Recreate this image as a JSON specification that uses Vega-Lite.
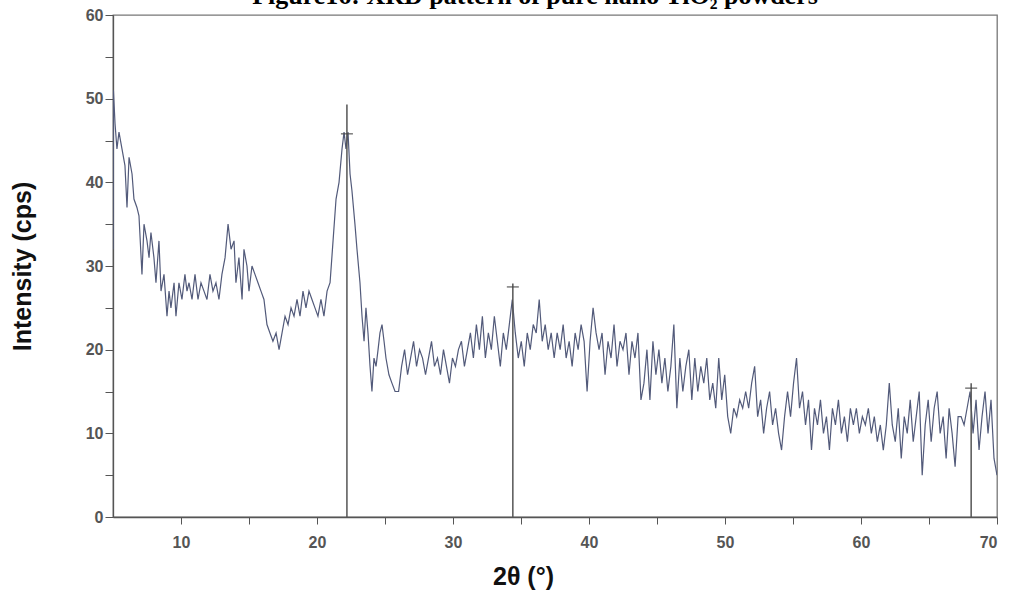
{
  "$schema": "https://vega.github.io/schema/vega-lite/v6.json",
  "width": 884,
  "height": 502,
  "autosize": {"type": "none"},
  "padding": {"left": 113, "top": 15, "right": 16, "bottom": 75},
  "background": "white",
  "title": {
    "text": "Figure16:  XRD pattern of pure nano TiO₂ powders",
    "font": "Liberation Serif",
    "fontSize": 26,
    "fontWeight": "bold",
    "color": "#000",
    "anchor": "middle",
    "frame": "group",
    "dx": -20,
    "dy": 23,
    "offset": 0,
    "baseline": "alphabetic"
  },
  "datasets": {
    "pattern": [
      {"angle": 5.0, "cps": 32}, {"angle": 5.03, "cps": 51}, {"angle": 5.15, "cps": 47}, {"angle": 5.29, "cps": 44},
      {"angle": 5.44, "cps": 46}, {"angle": 5.66, "cps": 44}, {"angle": 5.88, "cps": 42}, {"angle": 6.03, "cps": 37},
      {"angle": 6.18, "cps": 43}, {"angle": 6.40, "cps": 41}, {"angle": 6.54, "cps": 38}, {"angle": 6.76, "cps": 37},
      {"angle": 6.91, "cps": 36}, {"angle": 7.13, "cps": 29}, {"angle": 7.28, "cps": 35}, {"angle": 7.50, "cps": 33},
      {"angle": 7.65, "cps": 31}, {"angle": 7.79, "cps": 34}, {"angle": 8.01, "cps": 31}, {"angle": 8.16, "cps": 28},
      {"angle": 8.38, "cps": 33}, {"angle": 8.53, "cps": 27}, {"angle": 8.75, "cps": 29}, {"angle": 8.97, "cps": 24},
      {"angle": 9.12, "cps": 27}, {"angle": 9.26, "cps": 25}, {"angle": 9.49, "cps": 28}, {"angle": 9.63, "cps": 24},
      {"angle": 9.85, "cps": 28}, {"angle": 10.07, "cps": 26}, {"angle": 10.29, "cps": 29}, {"angle": 10.44, "cps": 27},
      {"angle": 10.59, "cps": 28}, {"angle": 10.81, "cps": 26}, {"angle": 11.03, "cps": 29}, {"angle": 11.25, "cps": 26},
      {"angle": 11.47, "cps": 28}, {"angle": 11.69, "cps": 27}, {"angle": 11.91, "cps": 26}, {"angle": 12.13, "cps": 29},
      {"angle": 12.35, "cps": 27}, {"angle": 12.57, "cps": 28}, {"angle": 12.79, "cps": 26}, {"angle": 13.01, "cps": 29},
      {"angle": 13.24, "cps": 31}, {"angle": 13.46, "cps": 35}, {"angle": 13.68, "cps": 32}, {"angle": 13.90, "cps": 33},
      {"angle": 14.04, "cps": 28}, {"angle": 14.26, "cps": 31}, {"angle": 14.49, "cps": 26}, {"angle": 14.63, "cps": 32},
      {"angle": 14.85, "cps": 30}, {"angle": 15.00, "cps": 27}, {"angle": 15.22, "cps": 30}, {"angle": 15.44, "cps": 29},
      {"angle": 15.66, "cps": 28}, {"angle": 15.88, "cps": 27}, {"angle": 16.10, "cps": 26}, {"angle": 16.32, "cps": 23},
      {"angle": 16.54, "cps": 22}, {"angle": 16.76, "cps": 21}, {"angle": 16.99, "cps": 22}, {"angle": 17.21, "cps": 20},
      {"angle": 17.43, "cps": 22}, {"angle": 17.65, "cps": 24}, {"angle": 17.87, "cps": 23}, {"angle": 18.09, "cps": 25},
      {"angle": 18.31, "cps": 24}, {"angle": 18.53, "cps": 26}, {"angle": 18.75, "cps": 24}, {"angle": 18.97, "cps": 27},
      {"angle": 19.19, "cps": 25}, {"angle": 19.41, "cps": 27}, {"angle": 19.63, "cps": 26}, {"angle": 19.85, "cps": 25},
      {"angle": 20.07, "cps": 24}, {"angle": 20.29, "cps": 26}, {"angle": 20.51, "cps": 24}, {"angle": 20.74, "cps": 27},
      {"angle": 20.96, "cps": 28}, {"angle": 21.18, "cps": 33}, {"angle": 21.40, "cps": 38}, {"angle": 21.62, "cps": 40},
      {"angle": 21.84, "cps": 44}, {"angle": 21.99, "cps": 46}, {"angle": 22.13, "cps": 44}, {"angle": 22.28, "cps": 46},
      {"angle": 22.43, "cps": 41}, {"angle": 22.57, "cps": 39}, {"angle": 22.79, "cps": 35}, {"angle": 22.94, "cps": 32},
      {"angle": 23.16, "cps": 28}, {"angle": 23.31, "cps": 24}, {"angle": 23.46, "cps": 21}, {"angle": 23.60, "cps": 25},
      {"angle": 23.75, "cps": 22}, {"angle": 23.90, "cps": 18}, {"angle": 24.04, "cps": 15}, {"angle": 24.19, "cps": 19},
      {"angle": 24.34, "cps": 18}, {"angle": 24.49, "cps": 20}, {"angle": 24.63, "cps": 22}, {"angle": 24.78, "cps": 23},
      {"angle": 24.93, "cps": 21}, {"angle": 25.07, "cps": 19}, {"angle": 25.29, "cps": 17}, {"angle": 25.51, "cps": 16},
      {"angle": 25.74, "cps": 15},
      {"angle": 26.00, "cps": 15}, {"angle": 26.22, "cps": 18}, {"angle": 26.44, "cps": 20}, {"angle": 26.66, "cps": 17},
      {"angle": 26.88, "cps": 19}, {"angle": 27.10, "cps": 21}, {"angle": 27.32, "cps": 18}, {"angle": 27.54, "cps": 20},
      {"angle": 27.76, "cps": 19}, {"angle": 27.98, "cps": 17}, {"angle": 28.20, "cps": 19}, {"angle": 28.42, "cps": 21},
      {"angle": 28.64, "cps": 18}, {"angle": 28.86, "cps": 19}, {"angle": 29.08, "cps": 17}, {"angle": 29.30, "cps": 20},
      {"angle": 29.52, "cps": 18}, {"angle": 29.74, "cps": 16}, {"angle": 29.96, "cps": 19}, {"angle": 30.18, "cps": 18},
      {"angle": 30.40, "cps": 20}, {"angle": 30.62, "cps": 21}, {"angle": 30.84, "cps": 18}, {"angle": 31.06, "cps": 20},
      {"angle": 31.28, "cps": 22}, {"angle": 31.50, "cps": 19}, {"angle": 31.72, "cps": 23}, {"angle": 31.94, "cps": 20},
      {"angle": 32.16, "cps": 24}, {"angle": 32.38, "cps": 19}, {"angle": 32.60, "cps": 22}, {"angle": 32.82, "cps": 20},
      {"angle": 33.04, "cps": 24}, {"angle": 33.26, "cps": 21}, {"angle": 33.48, "cps": 18}, {"angle": 33.70, "cps": 22},
      {"angle": 33.92, "cps": 20}, {"angle": 34.14, "cps": 23}, {"angle": 34.36, "cps": 26}, {"angle": 34.58, "cps": 22},
      {"angle": 34.80, "cps": 19}, {"angle": 35.02, "cps": 21}, {"angle": 35.24, "cps": 18}, {"angle": 35.46, "cps": 22},
      {"angle": 35.68, "cps": 20}, {"angle": 35.90, "cps": 23}, {"angle": 36.12, "cps": 22}, {"angle": 36.34, "cps": 26},
      {"angle": 36.56, "cps": 21}, {"angle": 36.78, "cps": 23}, {"angle": 37.00, "cps": 20}, {"angle": 37.22, "cps": 22},
      {"angle": 37.44, "cps": 19}, {"angle": 37.66, "cps": 22}, {"angle": 37.88, "cps": 20}, {"angle": 38.10, "cps": 23},
      {"angle": 38.32, "cps": 19}, {"angle": 38.54, "cps": 21}, {"angle": 38.76, "cps": 18}, {"angle": 38.98, "cps": 22},
      {"angle": 39.20, "cps": 20}, {"angle": 39.42, "cps": 23}, {"angle": 39.64, "cps": 21}, {"angle": 39.86, "cps": 15},
      {"angle": 40.08, "cps": 21}, {"angle": 40.30, "cps": 25}, {"angle": 40.52, "cps": 22}, {"angle": 40.74, "cps": 20},
      {"angle": 40.96, "cps": 22}, {"angle": 41.18, "cps": 17}, {"angle": 41.40, "cps": 21}, {"angle": 41.62, "cps": 19},
      {"angle": 41.84, "cps": 23}, {"angle": 42.06, "cps": 18}, {"angle": 42.28, "cps": 21}, {"angle": 42.50, "cps": 20},
      {"angle": 42.72, "cps": 22}, {"angle": 42.94, "cps": 17}, {"angle": 43.16, "cps": 21}, {"angle": 43.38, "cps": 19},
      {"angle": 43.60, "cps": 22}, {"angle": 43.82, "cps": 14}, {"angle": 44.04, "cps": 16}, {"angle": 44.26, "cps": 20},
      {"angle": 44.48, "cps": 14}, {"angle": 44.70, "cps": 21}, {"angle": 44.92, "cps": 17}, {"angle": 45.14, "cps": 20},
      {"angle": 45.36, "cps": 16}, {"angle": 45.58, "cps": 19}, {"angle": 45.80, "cps": 15}, {"angle": 46.02, "cps": 18},
      {"angle": 46.24, "cps": 23}, {"angle": 46.46, "cps": 13}, {"angle": 46.68, "cps": 19}, {"angle": 46.90, "cps": 15},
      {"angle": 47.12, "cps": 18}, {"angle": 47.34, "cps": 20}, {"angle": 47.56, "cps": 14}, {"angle": 47.78, "cps": 19},
      {"angle": 48.00, "cps": 15}, {"angle": 48.22, "cps": 18}, {"angle": 48.44, "cps": 16}, {"angle": 48.66, "cps": 19},
      {"angle": 48.88, "cps": 14}, {"angle": 49.10, "cps": 16}, {"angle": 49.32, "cps": 13}, {"angle": 49.54, "cps": 19},
      {"angle": 49.76, "cps": 14}, {"angle": 49.98, "cps": 17}, {"angle": 50.20, "cps": 12}, {"angle": 50.42, "cps": 10},
      {"angle": 50.64, "cps": 13}, {"angle": 50.86, "cps": 12}, {"angle": 51.08, "cps": 14}, {"angle": 51.30, "cps": 13},
      {"angle": 51.52, "cps": 15}, {"angle": 51.74, "cps": 13}, {"angle": 51.96, "cps": 16}, {"angle": 52.18, "cps": 18},
      {"angle": 52.40, "cps": 12}, {"angle": 52.62, "cps": 14}, {"angle": 52.84, "cps": 10}, {"angle": 53.06, "cps": 13},
      {"angle": 53.28, "cps": 15}, {"angle": 53.50, "cps": 11}, {"angle": 53.72, "cps": 13}, {"angle": 53.94, "cps": 10},
      {"angle": 54.16, "cps": 8}, {"angle": 54.38, "cps": 12}, {"angle": 54.60, "cps": 15}, {"angle": 54.82, "cps": 12},
      {"angle": 55.04, "cps": 16}, {"angle": 55.26, "cps": 19}, {"angle": 55.48, "cps": 13}, {"angle": 55.70, "cps": 15},
      {"angle": 55.92, "cps": 11}, {"angle": 56.14, "cps": 14}, {"angle": 56.36, "cps": 8}, {"angle": 56.58, "cps": 13},
      {"angle": 56.80, "cps": 11}, {"angle": 57.02, "cps": 14}, {"angle": 57.24, "cps": 10}, {"angle": 57.46, "cps": 12},
      {"angle": 57.68, "cps": 8}, {"angle": 57.90, "cps": 13}, {"angle": 58.12, "cps": 11}, {"angle": 58.34, "cps": 14},
      {"angle": 58.56, "cps": 10}, {"angle": 58.78, "cps": 12}, {"angle": 59.00, "cps": 9}, {"angle": 59.22, "cps": 13},
      {"angle": 59.44, "cps": 11}, {"angle": 59.66, "cps": 13}, {"angle": 59.88, "cps": 10}, {"angle": 60.10, "cps": 12},
      {"angle": 60.32, "cps": 11}, {"angle": 60.54, "cps": 13}, {"angle": 60.76, "cps": 10}, {"angle": 60.98, "cps": 12},
      {"angle": 61.20, "cps": 9}, {"angle": 61.42, "cps": 11}, {"angle": 61.64, "cps": 8}, {"angle": 61.86, "cps": 11},
      {"angle": 62.08, "cps": 16}, {"angle": 62.30, "cps": 11}, {"angle": 62.52, "cps": 9}, {"angle": 62.74, "cps": 13},
      {"angle": 62.96, "cps": 7}, {"angle": 63.18, "cps": 12}, {"angle": 63.40, "cps": 10}, {"angle": 63.62, "cps": 14},
      {"angle": 63.84, "cps": 9}, {"angle": 64.06, "cps": 12}, {"angle": 64.28, "cps": 15}, {"angle": 64.50, "cps": 5},
      {"angle": 64.72, "cps": 11}, {"angle": 64.94, "cps": 14}, {"angle": 65.16, "cps": 9}, {"angle": 65.38, "cps": 13},
      {"angle": 65.60, "cps": 15}, {"angle": 65.82, "cps": 10}, {"angle": 66.04, "cps": 12}, {"angle": 66.26, "cps": 7},
      {"angle": 66.48, "cps": 13}, {"angle": 66.70, "cps": 10}, {"angle": 66.92, "cps": 6}, {"angle": 67.14, "cps": 12},
      {"angle": 67.36, "cps": 12}, {"angle": 67.58, "cps": 11}, {"angle": 67.80, "cps": 13}, {"angle": 68.02, "cps": 15},
      {"angle": 68.24, "cps": 10}, {"angle": 68.46, "cps": 14}, {"angle": 68.68, "cps": 8}, {"angle": 68.90, "cps": 12},
      {"angle": 69.12, "cps": 15}, {"angle": 69.34, "cps": 10}, {"angle": 69.56, "cps": 14}, {"angle": 69.78, "cps": 7},
      {"angle": 70.00, "cps": 5}
    ],
    "peaks": [
      {"angle": 22.2, "top": 49.3, "cross": 45.8},
      {"angle": 34.4, "top": 27.9, "cross": 27.5},
      {"angle": 68.1, "top": 16.0, "cross": 15.4}
    ]
  },
  "config": {
    "view": {"stroke": "#777", "strokeWidth": 1.3},
    "axis": {
      "grid": false,
      "domainColor": "#555",
      "domainWidth": 1.3,
      "tickColor": "#555",
      "tickWidth": 1,
      "labelColor": "#555",
      "labelFont": "Liberation Sans",
      "labelFontSize": 16,
      "labelFontWeight": "bold",
      "titleFont": "Liberation Sans",
      "titleFontSize": 25,
      "titleFontWeight": "bold",
      "titleColor": "#111"
    }
  },
  "layer": [
    {
      "data": {"name": "pattern"},
      "mark": {"type": "line", "color": "#525a7a", "strokeWidth": 1.2, "clip": true},
      "encoding": {
        "x": {
          "field": "angle",
          "type": "quantitative",
          "scale": {"domain": [5, 70], "nice": false, "zero": false},
          "axis": {
            "title": "2θ (°)",
            "values": [10, 15, 20, 25, 30, 35, 40, 45, 50, 55, 60, 65, 70],
            "labelExpr": "datum.value % 10 === 0 ? datum.label : ''",
            "tickSize": 7,
            "labelPadding": 10,
            "titleX": 410,
            "titleY": 59,
            "titleBaseline": "middle",
            "titleAlign": "center"
          }
        },
        "y": {
          "field": "cps",
          "type": "quantitative",
          "scale": {"domain": [0, 60], "nice": false},
          "axis": {
            "title": "Intensity (cps)",
            "values": [0, 5, 10, 15, 20, 25, 30, 35, 40, 45, 50, 55, 60],
            "labelExpr": "datum.value % 10 === 0 ? datum.label : ''",
            "tickSize": 8,
            "labelPadding": 2,
            "titleX": -91,
            "titleY": 251,
            "titleAngle": -90,
            "titleBaseline": "middle",
            "titleAlign": "center"
          }
        }
      }
    },
    {
      "data": {"name": "peaks"},
      "mark": {"type": "rule", "color": "#555", "strokeWidth": 1.5},
      "encoding": {
        "x": {"field": "angle", "type": "quantitative"},
        "y": {"field": "top", "type": "quantitative"},
        "y2": {"datum": 0}
      }
    },
    {
      "data": {"name": "peaks"},
      "mark": {"type": "tick", "orient": "horizontal", "color": "#444", "size": 12, "thickness": 1.5},
      "encoding": {
        "x": {"field": "angle", "type": "quantitative"},
        "y": {"field": "cross", "type": "quantitative"}
      }
    }
  ]
}
